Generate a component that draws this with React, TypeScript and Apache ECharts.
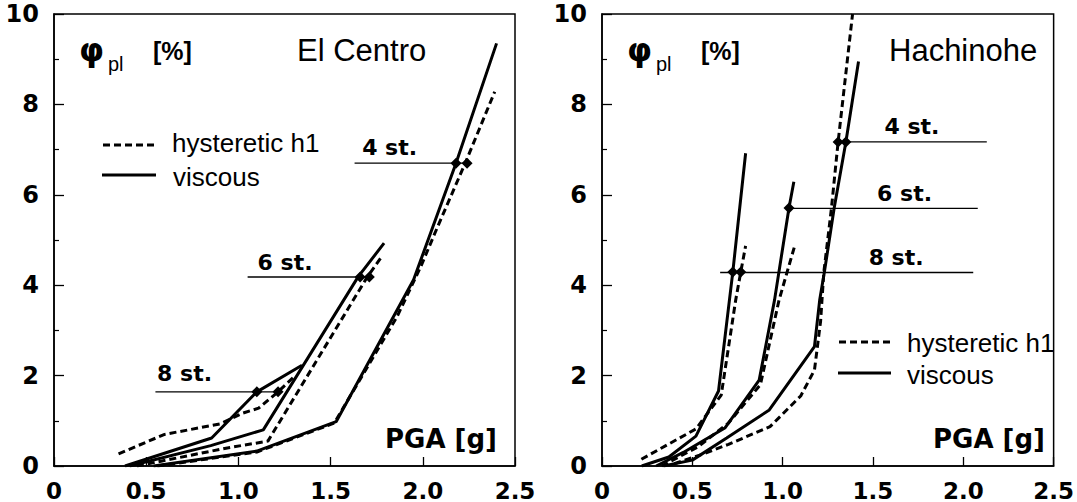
import React, { useEffect, useRef } from "react";
import * as echarts from "echarts";

// ---------- data: El Centro (left) ----------
const ecViscous4 = [[0.54, 0], [1.10, 0.33], [1.53, 0.98], [1.95, 4.12], [2.18, 6.70], [2.40, 9.35]];
const ecHyst4 = [[0.56, 0], [1.10, 0.31], [1.52, 0.95], [1.86, 3.30], [1.99, 4.42], [2.08, 5.29], [2.23, 6.70], [2.39, 8.28]];
const ecViscous6 = [[0.41, 0], [0.85, 0.45], [1.135, 0.80], [1.65, 4.19], [1.79, 4.93]];
const ecHyst6 = [[0.45, 0], [0.94, 0.40], [1.16, 0.55], [1.70, 4.19], [1.78, 4.65]];
const ecViscous8 = [[0.385, 0], [0.855, 0.62], [1.10, 1.64], [1.345, 2.23]];
const ecHyst8 = [[0.35, 0.27], [0.60, 0.70], [0.90, 0.93], [1.025, 1.17], [1.11, 1.28], [1.215, 1.64], [1.31, 2.01]];
const ecMarkers = [[1.10, 1.64], [1.215, 1.64], [1.66, 4.18], [1.71, 4.18], [2.18, 6.70], [2.24, 6.70]];
const ecStoryLines = [
  [[0.55, 1.64], [1.22, 1.64]],
  [[1.05, 4.18], [1.72, 4.18]],
  [[1.63, 6.70], [2.25, 6.70]],
];
const ecStoryLabels = [[0.708, 2.04, "8 st."], [1.253, 4.51, "6 st."], [1.82, 7.04, "4 st."]];

// ---------- data: Hachinohe (right) ----------
const hViscous8 = [[0.22, 0], [0.37, 0.2], [0.52, 0.66], [0.645, 1.66], [0.724, 4.29], [0.795, 6.92]];
const hHyst8 = [[0.218, 0.15], [0.52, 0.82], [0.66, 1.57], [0.74, 3.67], [0.768, 4.29], [0.795, 4.87]];
const hViscous6 = [[0.30, 0], [0.45, 0.3], [0.68, 0.84], [0.87, 1.90], [0.955, 3.67], [1.035, 5.71], [1.062, 6.29]];
const hHyst6 = [[0.33, 0], [0.53, 0.42], [0.70, 0.95], [0.877, 1.80], [0.98, 3.67], [1.068, 4.89]];
const hViscous4 = [[0.34, 0], [0.50, 0.13], [0.69, 0.62], [0.926, 1.24], [1.176, 2.64], [1.205, 3.67], [1.231, 4.29], [1.285, 5.70], [1.35, 7.17], [1.42, 8.95]];
const hHyst4 = [[0.40, 0.05], [0.55, 0.25], [0.70, 0.48], [0.93, 0.87], [1.10, 1.55], [1.176, 2.12], [1.21, 3.2], [1.228, 4.29], [1.27, 5.70], [1.307, 7.17], [1.387, 10.0]];
const hMarkers = [[0.724, 4.29], [0.768, 4.29], [1.035, 5.71], [1.307, 7.17], [1.35, 7.17]];
const hStoryLines = [
  [[0.654, 4.28], [2.055, 4.28]],
  [[1.035, 5.70], [2.08, 5.70]],
  [[1.30, 7.17], [2.13, 7.17]],
];
const hStoryLabels = [[1.628, 4.62, "8 st."], [1.675, 6.02, "6 st."], [1.716, 7.51, "4 st."]];

// ---------- axes ----------
const xMin = 0, xMax = 2.5, xStep = 0.5;
const yMin = 0, yMax = 10, yStep = 2;
const panelTitles = ["El Centro", "Hachinohe"];
const legendNames = ["hysteretic h1", "viscous"];

const DASH = [7, 4];
const LW = 3;

export default function App() {
  const ref = useRef<HTMLDivElement>(null);
  useEffect(() => {
    if (!ref.current) return;
    const chart = echarts.init(ref.current, null, { renderer: "svg" });

    const axisLabelStyle = {
      color: "#000",
      fontFamily: "DejaVu Sans",
      fontWeight: "bold" as const,
      fontSize: 24,
    };

    const mkX = (gi: number) => ({
      type: "value",
      gridIndex: gi,
      min: xMin,
      max: xMax,
      interval: xStep,
      axisLine: { show: true, lineStyle: { color: "#000", width: 1.5 } },
      axisTick: { show: true, inside: true, length: 9, lineStyle: { color: "#000", width: 1.3 } },
      splitLine: { show: false },
      axisLabel: {
        ...axisLabelStyle,
        fontSize: 23,
        margin: 13,
        formatter: (v: number) => (v === 0 ? "0" : v.toFixed(1)),
      },
    });
    const mkY = (gi: number) => ({
      type: "value",
      gridIndex: gi,
      min: yMin,
      max: yMax,
      interval: yStep,
      axisLine: { show: true, lineStyle: { color: "#000", width: 1.5 } },
      axisTick: { show: true, inside: true, length: 10, lineStyle: { color: "#000", width: 1.3 } },
      minorTick: { show: true, splitNumber: 2, length: 5, lineStyle: { color: "#000", width: 1.2 } },
      splitLine: { show: false },
      axisLabel: { ...axisLabelStyle, margin: 15 },
    });

    const lineSeries = (gi: number, data: number[][], dashed: boolean) => ({
      type: "line",
      xAxisIndex: gi,
      yAxisIndex: gi,
      data,
      symbol: "none",
      silent: true,
      lineStyle: { color: "#000", width: LW, type: dashed ? DASH : "solid" },
    });
    const storySeries = (gi: number, seg: number[][]) => ({
      type: "line",
      xAxisIndex: gi,
      yAxisIndex: gi,
      data: seg,
      symbol: "none",
      silent: true,
      lineStyle: { color: "#000", width: 1.4 },
    });
    const markerSeries = (gi: number, data: number[][]) => ({
      type: "scatter",
      xAxisIndex: gi,
      yAxisIndex: gi,
      data,
      symbol: "diamond",
      symbolSize: 11,
      itemStyle: { color: "#000", opacity: 1 },
      silent: true,
    });
    const labelSeries = (gi: number, data: any[]) => ({
      type: "scatter",
      xAxisIndex: gi,
      yAxisIndex: gi,
      data,
      symbolSize: 0,
      silent: true,
      itemStyle: { color: "#000", opacity: 1 },
      label: {
        show: true,
        position: "inside",
        formatter: (p: any) => p.data[2],
        color: "#000",
        opacity: 1,
        textBorderWidth: 0,
        fontFamily: "DejaVu Sans",
        fontWeight: "bold",
        fontSize: 22,
      },
    });

    const series: any[] = [];
    [ecViscous4, ecViscous6, ecViscous8].forEach((d) => series.push(lineSeries(0, d, false)));
    [ecHyst4, ecHyst6, ecHyst8].forEach((d) => series.push(lineSeries(0, d, true)));
    ecStoryLines.forEach((s) => series.push(storySeries(0, s)));
    series.push(markerSeries(0, ecMarkers));
    series.push(labelSeries(0, ecStoryLabels));

    [hViscous4, hViscous6, hViscous8].forEach((d) => series.push(lineSeries(1, d, false)));
    [hHyst4, hHyst6, hHyst8].forEach((d) => series.push(lineSeries(1, d, true)));
    hStoryLines.forEach((s) => series.push(storySeries(1, s)));
    series.push(markerSeries(1, hMarkers));
    series.push(labelSeries(1, hStoryLabels));

    const txt = (x: number, y: number, text: string, font: string, align = "left") => ({
      type: "text",
      x,
      y,
      silent: true,
      style: { text, font, fill: "#000", textAlign: align, textVerticalAlign: "middle" },
    });
    const seg = (x1: number, y1: number, x2: number, y2: number, dashed: boolean) => ({
      type: "line",
      silent: true,
      shape: { x1, y1, x2, y2 },
      style: { stroke: "#000", lineWidth: LW, lineDash: dashed ? DASH : null },
    });

    const graphic: any[] = [];
    const lefts = [54, 602];
    lefts.forEach((L) => {
      graphic.push(txt(L + 25, 50, "φ", "bold 32px 'DejaVu Sans'"));
      graphic.push(txt(L + 54, 64, "pl", "20px 'Liberation Sans'"));
      graphic.push(txt(L + 99, 51, "[%]", "bold 25px 'Liberation Sans'"));
    });
    graphic.push(txt(297, 50, panelTitles[0], "31px 'Liberation Sans'"));
    graphic.push(txt(889, 50, panelTitles[1], "31px 'Liberation Sans'"));
    graphic.push(txt(497, 439, "PGA [g]", "bold 26px 'DejaVu Sans'", "right"));
    graphic.push(txt(1045, 439, "PGA [g]", "bold 26px 'DejaVu Sans'", "right"));

    // legend left
    graphic.push(seg(103, 145, 156, 145, true));
    graphic.push(seg(102, 175, 156, 175, false));
    graphic.push(txt(172, 143, legendNames[0], "26px 'Liberation Sans'"));
    graphic.push(txt(173, 177, legendNames[1], "26px 'Liberation Sans'"));
    // legend right
    graphic.push(seg(839, 342, 891, 342, true));
    graphic.push(seg(838, 373, 891, 373, false));
    graphic.push(txt(907, 343, legendNames[0], "26px 'Liberation Sans'"));
    graphic.push(txt(907, 375, legendNames[1], "26px 'Liberation Sans'"));

    chart.setOption({
      animation: false,
      backgroundColor: "#fff",
      grid: [
        { left: 54, top: 14, width: 461, height: 452, show: true, borderColor: "#000", borderWidth: 1.5, backgroundColor: "transparent" },
        { left: 602, top: 14, width: 459, height: 452, show: true, borderColor: "#000", borderWidth: 1.5, backgroundColor: "transparent" },
      ],
      xAxis: [mkX(0), mkX(1)],
      yAxis: [mkY(0), mkY(1)],
      series,
      graphic,
    });
    return () => chart.dispose();
  }, []);
  return (
    <div
      ref={ref}
      style={{ position: "absolute", left: 0, top: 0, width: 1077, height: 502, background: "#fff" }}
    />
  );
}
